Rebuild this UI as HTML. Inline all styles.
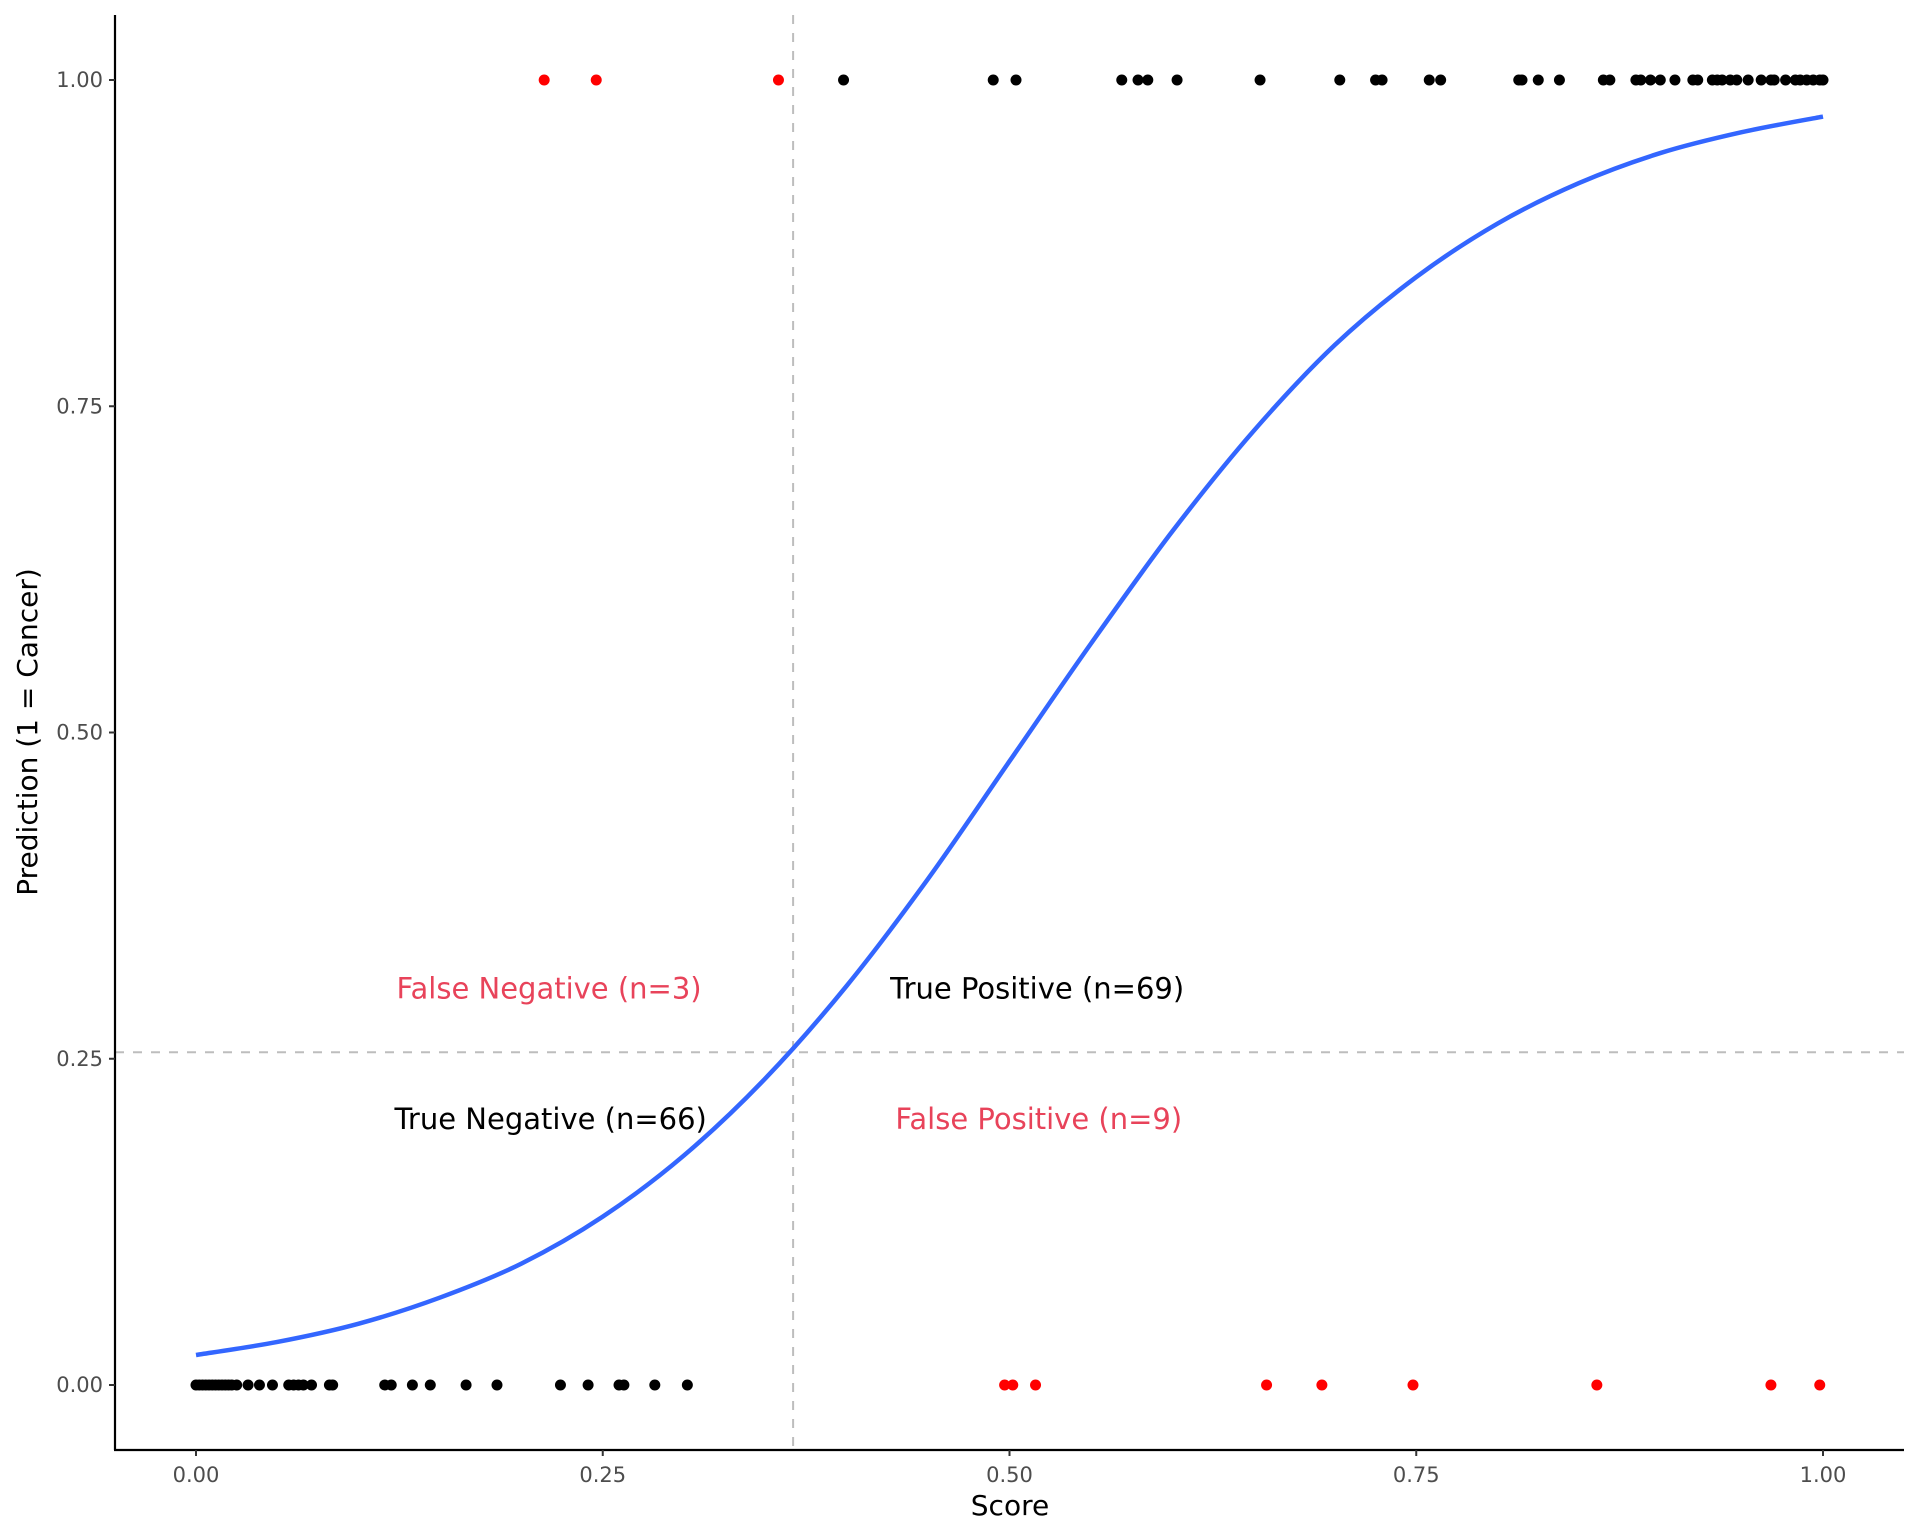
<!DOCTYPE html>
<html><head><meta charset="utf-8"><style>
html,body{margin:0;padding:0;background:#fff;}
svg{display:block;font-family:"DejaVu Sans","Liberation Sans",sans-serif;}
</style></head><body>
<svg id="chart" width="1920" height="1536" viewBox="0 0 1920 1536" xmlns="http://www.w3.org/2000/svg"></svg>
<script>
const xTicks=[0,0.25,0.5,0.75,1];
const xTickLabels=["0.00","0.25","0.50","0.75","1.00"];
const yTicks=[0,0.25,0.5,0.75,1];
const yTickLabels=["0.00","0.25","0.50","0.75","1.00"];
const posBlack=[0.398,0.490,0.504,0.569,0.579,0.585,0.603,0.654,0.703,0.725,0.729,0.758,0.765,0.813,0.815,0.825,0.838,0.865,0.869,0.885,0.888,0.894,0.900,0.909,0.920,0.923,0.932,0.935,0.938,0.943,0.947,0.954,0.962,0.968,0.970,0.977,0.983,0.986,0.990,0.994,0.998,1.0];
const posRed=[0.214,0.246,0.358];
const negBlack=[0.000,0.002,0.004,0.006,0.008,0.010,0.012,0.014,0.016,0.018,0.020,0.022,0.025,0.032,0.039,0.047,0.057,0.060,0.063,0.066,0.071,0.082,0.084,0.116,0.120,0.133,0.144,0.166,0.185,0.224,0.241,0.260,0.263,0.282,0.302];
const negRed=[0.497,0.502,0.516,0.658,0.692,0.748,0.861,0.968,0.998];
const curveX=[0,0.05,0.1,0.15,0.2,0.25,0.3,0.35,0.4,0.45,0.5,0.55,0.6,0.65,0.7,0.75,0.8,0.85,0.9,0.95,1.0];
const curveY=[0.023,0.033,0.047,0.067,0.093,0.129,0.176,0.235,0.306,0.388,0.478,0.568,0.654,0.731,0.797,0.849,0.890,0.921,0.944,0.960,0.972];
const thresholdX=0.367;
const thresholdY=0.255;
const annotations=[["False Negative (n=3)",0.217,0.304,"#E8435A"],["True Positive (n=69)",0.517,0.304,"#000"],["True Negative (n=66)",0.218,0.204,"#000"],["False Positive (n=9)",0.518,0.204,"#E8435A"]];

const NS="http://www.w3.org/2000/svg";
const svg=document.getElementById('chart');
const X=v=>196+v*(1823-196);
const Y=v=>1385-v*(1385-80);
function mk(tag,attrs,parent){const e=document.createElementNS(NS,tag);for(const k in attrs)e.setAttribute(k,attrs[k]);(parent||svg).appendChild(e);return e;}

let vl=mk('line',{x1:X(thresholdX),x2:X(thresholdX),y1:15,y2:1449,stroke:'#bdbdbd','stroke-width':2,'stroke-dasharray':'9,9'});


let hl=mk('line',{x1:115,x2:1904,y1:Y(thresholdY),y2:Y(thresholdY),stroke:'#bdbdbd','stroke-width':2,'stroke-dasharray':'9,9'});



function pts(arr,yv,color,name){
  const g=mk('g',{});
  
  
  arr.forEach(v=>{
    const c=mk('circle',{cx:X(v),cy:Y(yv),r:5.5,fill:color},g);
    
    
  });
}
pts(posBlack,1,'#000','true-positive-points');
pts(posRed,1,'#ff0000','false-negative-points');
pts(negBlack,0,'#000','true-negative-points');
pts(negRed,0,'#ff0000','false-positive-points');

const P=curveX.map((v,i)=>[X(v),Y(curveY[i])]);
let d='M'+P[0][0]+','+P[0][1];
for(let i=0;i<P.length-1;i++){
  const p0=P[Math.max(0,i-1)],p1=P[i],p2=P[i+1],p3=P[Math.min(P.length-1,i+2)];
  d+=' C'+(p1[0]+(p2[0]-p0[0])/6)+','+(p1[1]+(p2[1]-p0[1])/6)+' '+(p2[0]-(p3[0]-p1[0])/6)+','+(p2[1]-(p3[1]-p1[1])/6)+' '+p2[0]+','+p2[1];
}
let cv=mk('path',{d:d,fill:'none',stroke:'#3366FF','stroke-width':4.5});



annotations.forEach(a=>{
  const t=mk('text',{x:X(a[1]),y:Y(a[2])+10,'text-anchor':'middle','font-size':29,fill:a[3]});
  t.textContent=a[0];
  
  
});

let ya=mk('line',{x1:115,x2:115,y1:15,y2:1450,stroke:'#000','stroke-width':2.2});


let xa=mk('line',{x1:114,x2:1904,y1:1450,y2:1450,stroke:'#000','stroke-width':2.2});


xTicks.forEach((v,i)=>{
  mk('line',{x1:X(v),x2:X(v),y1:1450,y2:1456,stroke:'#333','stroke-width':2});
  const t=mk('text',{x:X(v),y:1482,'text-anchor':'middle','font-size':21,fill:'#4d4d4d'});
  t.textContent=xTickLabels[i];
  
  
});
yTicks.forEach((v,i)=>{
  mk('line',{x1:109,x2:115,y1:Y(v),y2:Y(v),stroke:'#333','stroke-width':2});
  const t=mk('text',{x:103,y:Y(v)+7,'text-anchor':'end','font-size':21,fill:'#4d4d4d'});
  t.textContent=yTickLabels[i];
  
  
});
let xt=mk('text',{x:1010,y:1515,'text-anchor':'middle','font-size':28,fill:'#000'});
xt.textContent='Score';


let yt=mk('text',{x:0,y:0,'text-anchor':'middle','font-size':28,fill:'#000',transform:'translate(37,732) rotate(-90)'});
yt.textContent='Prediction (1 = Cancer)';


</script>
</body></html>
